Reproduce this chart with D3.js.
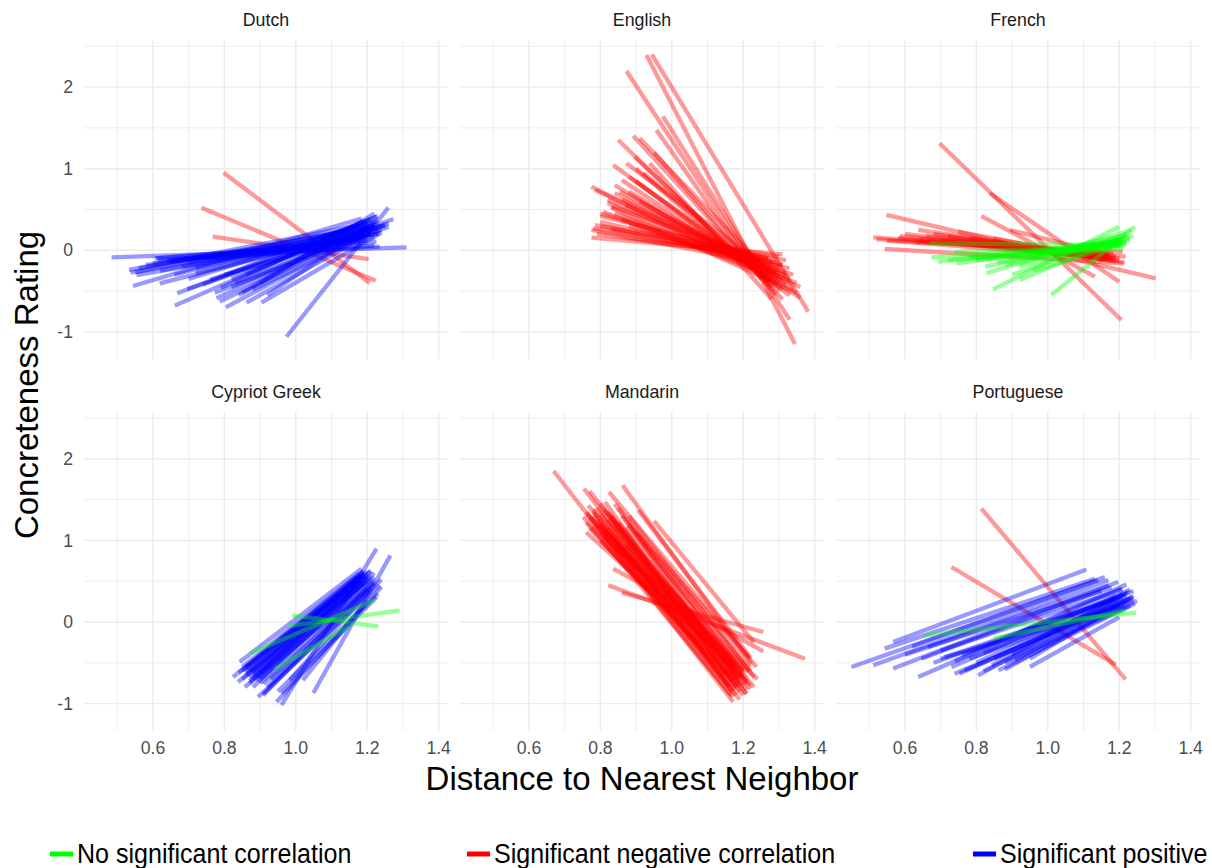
<!DOCTYPE html>
<html>
<head>
<meta charset="utf-8">
<script src="https://cdn.jsdelivr.net/npm/d3@7"></script>
<style>
  html, body { margin: 0; padding: 0; background: #fff; }
  svg { display: block; font-family: "Liberation Sans", Arial, sans-serif; }
</style>
</head>
<body>
<svg id="chart" width="1212" height="868"></svg>
<script>
// facets and legend categories
const facets = ["Dutch", "English", "French", "Cypriot Greek", "Mandarin", "Portuguese"];
const categories = ["No significant correlation", "Significant negative correlation", "Significant positive correlation"];
const catColors = ["#00FF00", "#FF0000", "#0000FF"];

const xTicks = [0.6, 0.8, 1.0, 1.2, 1.4];
const xTickLabels = ["0.6", "0.8", "1.0", "1.2", "1.4"];
const xMinor = [0.5, 0.7, 0.9, 1.1, 1.3];
const yTicks = [-1, 0, 1, 2];
const yMinor = [-0.5, 0.5, 1.5, 2.5];

// segments: [x1, y1, x2, y2]
const dutchNeg = [
  [0.798, 0.951, 1.207, -0.40],
  [0.736, 0.522, 1.224, -0.373],
  [0.767, 0.167, 1.204, -0.107]
];
const dutchPos = [
  [0.484, -0.086, 1.31, 0.037],
  [0.974, -1.059, 1.259, 0.522],
  [0.533, -0.241, 1.226, 0.35],
  [0.537, -0.274, 1.20, 0.28],
  [0.544, -0.437, 1.184, 0.39],
  [0.554, -0.303, 1.235, 0.208],
  [0.605, -0.098, 1.226, 0.105],
  [0.614, -0.119, 1.235, 0.044],
  [0.619, -0.405, 1.25, 0.30],
  [0.668, -0.527, 1.226, 0.412],
  [0.661, -0.678, 1.20, 0.35],
  [0.696, -0.478, 1.273, 0.38],
  [0.773, -0.519, 1.26, 0.29],
  [0.778, -0.588, 1.22, 0.32],
  [0.787, -0.629, 1.20, 0.25],
  [0.804, -0.699, 1.19, 0.20],
  [0.862, -0.642, 1.23, 0.26],
  [0.904, -0.642, 1.24, 0.22],
  [0.61, -0.10, 1.20, 0.12],
  [0.64, -0.12, 1.18, 0.10],
  [0.70, -0.15, 1.22, 0.16],
  [0.72, -0.22, 1.21, 0.23],
  [0.80, -0.30, 1.24, 0.25],
  [0.82, -0.45, 1.22, 0.30],
  [0.76, -0.36, 1.25, 0.32],
  [0.84, -0.55, 1.23, 0.37],
  [0.88, -0.48, 1.19, 0.17],
  [0.68, -0.20, 1.21, 0.20],
  [0.58, -0.18, 1.18, 0.15],
  [0.83, -0.40, 1.26, 0.33],
  [0.92, -0.55, 1.20, 0.28],
  [0.75, -0.10, 1.22, 0.06],
  [0.86, -0.30, 1.23, 0.42],
  [0.90, -0.40, 1.22, 0.45],
  [0.56, -0.22, 1.21, 0.28],
  [0.62, -0.25, 1.19, 0.25],
  [0.66, -0.30, 1.22, 0.34],
  [0.70, -0.35, 1.20, 0.33],
  [0.74, -0.42, 1.21, 0.38],
  [0.60, -0.16, 1.23, 0.20],
  [0.79, -0.46, 1.19, 0.36],
  [0.85, -0.52, 1.18, 0.33],
  [0.72, -0.28, 1.24, 0.30],
  [0.65, -0.14, 1.19, 0.17],
  [0.55, -0.27, 1.22, 0.31],
  [0.82, -0.35, 1.21, 0.29]
];
const englishNeg = [
  [0.873, 2.197, 1.33, -0.85],
  [0.929, 2.393, 1.345, -1.148],
  [0.944, 2.40, 1.382, -0.752],
  [0.975, 1.64, 1.29, -0.55],
  [0.957, 1.474, 1.25, -0.35],
  [0.85, 1.352, 1.31, -0.60],
  [0.892, 1.404, 1.28, -0.45],
  [0.910, 1.372, 1.30, -0.40],
  [0.836, 1.045, 1.33, -0.55],
  [0.873, 1.066, 1.30, -0.32],
  [0.938, 1.066, 1.28, -0.60],
  [0.775, 0.78, 1.34, -0.48],
  [0.785, 0.739, 1.32, -0.32],
  [0.840, 0.80, 1.36, -0.58],
  [0.854, 0.718, 1.29, -0.28],
  [0.808, 0.473, 1.35, -0.40],
  [0.831, 0.534, 1.31, -0.18],
  [0.785, 0.31, 1.30, -0.08],
  [0.775, 0.249, 1.33, -0.22],
  [0.775, 0.155, 1.31, -0.05],
  [0.896, 1.147, 1.27, -0.40],
  [0.79, 0.20, 1.32, -0.12],
  [0.80, 0.35, 1.28, -0.15],
  [0.82, 0.58, 1.33, -0.38],
  [0.86, 0.62, 1.30, -0.25],
  [0.88, 0.90, 1.27, -0.30],
  [0.90, 0.85, 1.31, -0.48],
  [0.92, 0.95, 1.29, -0.42],
  [0.84, 0.45, 1.34, -0.30],
  [0.86, 0.38, 1.36, -0.45],
  [0.80, 0.42, 1.27, -0.10],
  [0.95, 1.20, 1.26, -0.35],
  [0.88, 0.30, 1.32, -0.28],
  [0.83, 0.26, 1.29, -0.15],
  [0.91, 0.60, 1.25, -0.22],
  [0.80, 0.45, 1.30, -0.20],
  [0.82, 0.62, 1.29, -0.30],
  [0.84, 0.70, 1.31, -0.35],
  [0.86, 0.86, 1.28, -0.36],
  [0.88, 0.72, 1.32, -0.42],
  [0.80, 0.30, 1.31, -0.18],
  [0.78, 0.27, 1.27, -0.10],
  [0.90, 1.00, 1.30, -0.50],
  [0.83, 0.52, 1.35, -0.52],
  [0.87, 0.55, 1.33, -0.34]
];
const frenchNeg = [
  [0.697, 1.311, 1.206, -0.854],
  [0.838, 0.698, 1.20, -0.385],
  [0.814, 0.42, 1.132, -0.323],
  [0.548, 0.433, 1.302, -0.343],
  [0.511, 0.159, 1.218, -0.078],
  [0.520, 0.135, 1.183, -0.037],
  [0.543, 0.016, 1.211, -0.159],
  [0.637, 0.249, 1.164, -0.098],
  [0.585, 0.175, 1.17, -0.06],
  [0.749, 0.228, 1.216, -0.152],
  [0.894, 0.249, 1.19, -0.078],
  [0.847, 0.147, 1.155, -0.119],
  [0.60, 0.20, 1.18, -0.12],
  [0.66, 0.18, 1.20, -0.10],
  [0.70, 0.12, 1.17, -0.06],
  [0.63, 0.10, 1.21, -0.02],
  [0.55, 0.12, 1.15, -0.08],
  [0.78, 0.15, 1.19, -0.14],
  [0.86, 0.08, 1.16, -0.12],
  [0.58, 0.15, 1.19, -0.10],
  [0.64, 0.14, 1.17, -0.08],
  [0.68, 0.20, 1.20, -0.13],
  [0.72, 0.17, 1.18, -0.09]
];
const frenchNone = [
  [0.674, -0.086, 1.218, 0.065],
  [0.693, -0.14, 1.23, 0.126],
  [0.744, -0.159, 1.21, 0.10],
  [0.824, -0.20, 1.20, 0.167],
  [0.828, -0.282, 1.234, 0.249],
  [0.847, -0.478, 1.20, 0.289],
  [1.01, -0.548, 1.244, 0.289],
  [0.922, -0.364, 1.22, 0.187],
  [0.669, 0.086, 1.21, 0.065],
  [0.96, -0.25, 1.22, 0.10],
  [0.72, -0.12, 1.18, 0.03],
  [0.78, -0.08, 1.21, 0.02],
  [0.88, -0.18, 1.19, 0.12],
  [0.90, -0.30, 1.22, 0.20],
  [0.74, -0.02, 1.20, 0.05],
  [0.95, -0.10, 1.23, 0.15],
  [0.80, -0.12, 1.22, 0.10],
  [0.86, -0.15, 1.21, 0.14],
  [0.92, -0.20, 1.24, 0.18]
];
const greekPos = [
  [0.843, -0.49, 1.184, 0.654],
  [0.824, -0.674, 1.189, 0.613],
  [0.838, -0.735, 1.198, 0.552],
  [0.857, -0.797, 1.217, 0.47],
  [0.96, -1.02, 1.226, 0.90],
  [1.049, -0.87, 1.265, 0.817],
  [0.894, -0.919, 1.235, 0.45],
  [0.908, -0.898, 1.22, 0.511],
  [0.946, -0.98, 1.24, 0.43],
  [0.96, -0.877, 1.226, 0.307],
  [0.983, -0.714, 1.207, 0.389],
  [1.02, -0.714, 1.198, 0.266],
  [0.85, -0.55, 1.18, 0.60],
  [0.86, -0.62, 1.19, 0.58],
  [0.87, -0.60, 1.20, 0.62],
  [0.88, -0.65, 1.18, 0.55],
  [0.85, -0.70, 1.20, 0.50],
  [0.87, -0.72, 1.21, 0.56],
  [0.89, -0.68, 1.19, 0.48],
  [0.90, -0.75, 1.22, 0.55],
  [0.92, -0.80, 1.21, 0.42],
  [0.88, -0.80, 1.22, 0.60],
  [0.93, -0.70, 1.20, 0.40],
  [0.86, -0.58, 1.17, 0.50],
  [0.84, -0.62, 1.16, 0.45],
  [0.90, -0.62, 1.21, 0.62],
  [0.95, -0.85, 1.23, 0.35],
  [0.91, -0.88, 1.24, 0.52],
  [0.86, -0.65, 1.19, 0.60],
  [0.87, -0.68, 1.20, 0.58],
  [0.88, -0.62, 1.19, 0.62],
  [0.89, -0.72, 1.21, 0.52],
  [0.85, -0.60, 1.18, 0.57],
  [0.90, -0.70, 1.20, 0.55],
  [0.87, -0.75, 1.21, 0.63],
  [0.91, -0.76, 1.22, 0.48],
  [0.86, -0.55, 1.17, 0.55],
  [0.88, -0.70, 1.18, 0.50]
];
const greekNone = [
  [0.99, 0.082, 1.231, -0.053],
  [0.98, -0.05, 1.291, 0.143],
  [0.871, -0.387, 1.221, 0.266],
  [0.94, -0.58, 1.15, -0.05]
];
const mandarinNeg = [
  [0.669, 1.85, 1.172, -0.98],
  [0.754, 1.635, 1.20, -0.898],
  [0.770, 1.605, 1.209, -0.878],
  [0.824, 1.593, 1.237, -0.551],
  [0.862, 1.675, 1.223, -0.51],
  [0.906, 1.369, 1.219, -0.43],
  [0.950, 1.238, 1.23, -0.25],
  [0.836, 0.654, 1.256, -0.359],
  [0.822, 0.45, 1.373, -0.449],
  [0.86, 0.36, 1.256, -0.122],
  [0.752, 1.287, 1.167, -0.898],
  [0.766, 1.43, 1.176, -0.837],
  [0.80, 1.451, 1.181, -0.796],
  [0.813, 1.472, 1.19, -0.857],
  [0.789, 1.206, 1.19, -0.674],
  [0.762, 1.328, 1.20, -0.592],
  [0.81, 1.124, 1.214, -0.612],
  [0.845, 0.96, 1.20, -0.70],
  [0.872, 1.165, 1.22, -0.60],
  [0.78, 1.30, 1.18, -0.90],
  [0.79, 1.25, 1.16, -0.80],
  [0.77, 1.15, 1.17, -0.72],
  [0.82, 1.35, 1.21, -0.75],
  [0.76, 1.22, 1.15, -0.65],
  [0.80, 1.00, 1.19, -0.78],
  [0.83, 1.28, 1.22, -0.82],
  [0.85, 1.40, 1.20, -0.62],
  [0.78, 1.38, 1.19, -0.95],
  [0.88, 1.30, 1.23, -0.68],
  [0.76, 1.10, 1.18, -0.55],
  [0.80, 1.20, 1.21, -0.88],
  [0.84, 1.18, 1.17, -0.50],
  [0.90, 1.10, 1.22, -0.45],
  [0.87, 0.95, 1.24, -0.70],
  [0.78, 1.35, 1.18, -0.80],
  [0.80, 1.32, 1.20, -0.78],
  [0.82, 1.25, 1.19, -0.70],
  [0.79, 1.40, 1.17, -0.85],
  [0.81, 1.38, 1.21, -0.83],
  [0.77, 1.28, 1.16, -0.78],
  [0.83, 1.30, 1.20, -0.66],
  [0.85, 1.22, 1.21, -0.72],
  [0.80, 1.10, 1.18, -0.70],
  [0.84, 1.45, 1.19, -0.75],
  [0.76, 1.35, 1.17, -0.92],
  [0.82, 1.15, 1.22, -0.78],
  [0.86, 1.30, 1.23, -0.80],
  [0.78, 1.18, 1.18, -0.62],
  [0.88, 1.20, 1.22, -0.55],
  [0.81, 1.05, 1.20, -0.60]
];
const portugueseNeg = [
  [0.814, 1.39, 1.218, -0.702],
  [0.730, 0.674, 1.19, -0.522]
];
const portuguesePos = [
  [0.567, -0.245, 1.108, 0.642],
  [0.45, -0.551, 1.141, 0.511],
  [0.543, -0.326, 1.132, 0.531],
  [0.511, -0.531, 1.17, 0.511],
  [0.567, -0.571, 1.197, 0.49],
  [0.637, -0.674, 1.206, 0.409],
  [0.739, -0.633, 1.239, 0.266],
  [0.753, -0.633, 1.234, 0.307],
  [0.805, -0.653, 1.225, 0.368],
  [0.862, -0.592, 1.244, 0.225],
  [0.95, -0.551, 1.20, 0.06],
  [0.646, -0.449, 1.178, 0.43],
  [0.711, -0.429, 1.216, 0.184],
  [0.73, -0.551, 1.21, 0.35],
  [0.767, -0.592, 1.24, 0.30],
  [0.843, -0.531, 1.23, 0.40],
  [0.908, -0.470, 1.22, 0.32],
  [0.665, -0.306, 1.17, 0.45],
  [0.60, -0.40, 1.15, 0.38],
  [0.68, -0.50, 1.19, 0.28],
  [0.78, -0.45, 1.20, 0.22],
  [0.82, -0.60, 1.25, 0.26],
  [0.70, -0.35, 1.21, 0.40],
  [0.62, -0.30, 1.16, 0.55],
  [0.88, -0.50, 1.23, 0.20],
  [0.74, -0.48, 1.22, 0.46],
  [0.80, -0.50, 1.22, 0.35],
  [0.85, -0.45, 1.21, 0.30],
  [0.90, -0.40, 1.23, 0.28],
  [0.76, -0.40, 1.24, 0.38],
  [0.70, -0.45, 1.20, 0.30],
  [0.88, -0.58, 1.22, 0.25],
  [0.82, -0.38, 1.19, 0.32],
  [0.95, -0.45, 1.24, 0.32]
];
const portugueseNone = [
  [0.651, -0.163, 1.248, 0.115],
  [0.847, -0.204, 1.216, 0.143]
];

// per facet: [negative, positive, none] (drawing order)
const facetSegments = [
  [dutchNeg, dutchPos, []],
  [englishNeg, [], []],
  [frenchNeg, [], frenchNone],
  [[], greekPos, greekNone],
  [mandarinNeg, [], []],
  [portugueseNeg, portuguesePos, portugueseNone]
];
const drawCats = [1, 2, 0]; // index into categories for each slot

// layout
const panelW = 364, panelH = 319;
const colX = [84, 460, 836];
const rowY = [40, 411.7];

const svg = d3.select("#chart");

let x = d3.scaleLinear().domain([0.4069, 1.4262]).range([0, panelW]);
let y = d3.scaleLinear().domain([-1.332, 2.577]).range([panelH, 0]);

facets.forEach((name, i) => {
  const col = i % 3, row = Math.floor(i / 3);
  const g = svg.append("g")
    .attr("transform", "translate(" + colX[col] + "," + rowY[row] + ")");

  // minor grid
  g.selectAll("line.xminor").data(xMinor).enter().append("line")
    .attr("x1", d => x(d)).attr("x2", d => x(d))
    .attr("y1", 0).attr("y2", panelH)
    .attr("stroke", "#EBEBEB").attr("stroke-width", 0.9);
  g.selectAll("line.yminor").data(yMinor).enter().append("line")
    .attr("y1", d => y(d)).attr("y2", d => y(d))
    .attr("x1", 0).attr("x2", panelW)
    .attr("stroke", "#EBEBEB").attr("stroke-width", 0.9);
  // major grid
  g.selectAll("line.xmajor").data(xTicks).enter().append("line")
    .attr("x1", d => x(d)).attr("x2", d => x(d))
    .attr("y1", 0).attr("y2", panelH)
    .attr("stroke", "#EBEBEB").attr("stroke-width", 1.4);
  g.selectAll("line.ymajor").data(yTicks).enter().append("line")
    .attr("y1", d => y(d)).attr("y2", d => y(d))
    .attr("x1", 0).attr("x2", panelW)
    .attr("stroke", "#EBEBEB").attr("stroke-width", 1.4);

  // segments
  facetSegments[i].forEach((segs, k) => {
    g.append("g").selectAll("line")
      .data(segs)
      .enter()
      .append("line")
      .attr("x1", d => x(d[0])).attr("y1", d => y(d[1]))
      .attr("x2", d => x(d[2])).attr("y2", d => y(d[3]))
      .attr("stroke", catColors[drawCats[k]])
      .attr("stroke-opacity", 0.4)
      .attr("stroke-width", 4.3);
  });

  // strip label
  g.append("text")
    .attr("x", panelW / 2).attr("y", -13.6)
    .attr("text-anchor", "middle")
    .attr("font-size", 17.8)
    .attr("fill", "#1A1A1A")
    .text(name);

  // y tick labels on first column
  if (col == 0) {
    g.selectAll("text.ytick").data(yTicks).enter().append("text")
      .attr("x", -11).attr("y", d => y(d))
      .attr("dy", "0.35em")
      .attr("text-anchor", "end")
      .attr("font-size", 17.6)
      .attr("fill", "#4D4D4D")
      .text(d => d);
  }
  // x tick labels on bottom row
  if (row == 1) {
    g.selectAll("text.xtick").data(xTicks).enter().append("text")
      .attr("x", d => x(d)).attr("y", panelH + 23.3)
      .attr("text-anchor", "middle")
      .attr("font-size", 17.6)
      .attr("fill", "#4D4D4D")
      .text((d, j) => xTickLabels[j]);
  }
});

// axis titles
svg.append("text")
  .attr("x", 642).attr("y", 790)
  .attr("text-anchor", "middle")
  .attr("font-size", 33)
  .attr("fill", "#000")
  .text("Distance to Nearest Neighbor");

svg.append("text")
  .attr("transform", "translate(37.5,385) rotate(-90)")
  .attr("text-anchor", "middle")
  .attr("font-size", 33)
  .attr("fill", "#000")
  .text("Concreteness Rating");

// legend (runs past the right edge like the original)
const legendX = [50, 467, 973];
const legend = svg.append("g");
categories.forEach((c, i) => {
  legend.append("line")
    .attr("x1", legendX[i]).attr("x2", legendX[i] + 23)
    .attr("y1", 854).attr("y2", 854)
    .attr("stroke", catColors[i])
    .attr("stroke-width", 5);
  legend.append("text")
    .attr("transform", "translate(" + (legendX[i] + 27) + ",863) scale(0.895,1)")
    .attr("font-size", 28)
    .attr("fill", "#000")
    .text(c);
});
</script>
</body>
</html>
